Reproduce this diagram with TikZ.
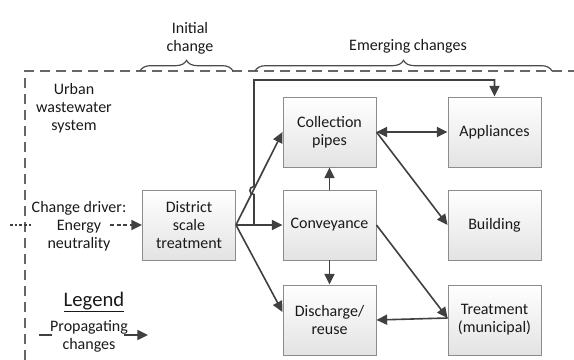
\documentclass[tikz,border=0pt]{standalone}
\usepackage{fontspec}
\setmainfont{Carlito}
\usetikzlibrary{arrows.meta,decorations.pathreplacing,calc}
\begin{document}
\begin{tikzpicture}[x=0.75pt,y=-0.75pt,
  every node/.style={font=\fontsize{12}{13.5}\selectfont, text=black!90},
  box/.style={draw=black!45, line width=0.7pt, top color=white, bottom color=black!11,
    minimum width=69.75pt, minimum height=52.5pt, align=center, inner sep=1pt},
  tip/.style={Triangle[length=8pt,width=7.5pt]},
  conn/.style={draw=black!75, line width=1.2pt, -{Triangle[length=8pt,width=7.5pt]}},
  conn2/.style={draw=black!75, line width=1.2pt, {Triangle[length=8pt,width=7.5pt]}-{Triangle[length=8pt,width=7.5pt]}},
  bound/.style={draw=black!60, line width=1.4pt, dash pattern=on 7.5pt off 4.5pt},
  brc/.style={draw=black!70, line width=0.9pt, decorate, decoration={brace, amplitude=8pt, aspect=0.5}},
  lbl/.style={align=center}]
\useasboundingbox (0,0) rectangle (574,360);
% boundary
\draw[bound] (25,360) -- (25,71) -- (574,71);
% braces
\draw[brc] (140,71) -- (233,71);
\draw[brc] (255,71) -- (552,71);
\node[lbl] (ic) at (190,38) {Initial\\change};
\node[lbl] (ec) at (408,46) {Emerging changes};
\node[lbl] (uws) at (74,108) {Urban\\wastewater\\system};
% boxes
\node[box] (dst) at (189,225) {District\\scale\\treatment};
\node[box] (cp) at (329.5,132) {Collection\\pipes};
\node[box] (app) at (494.5,132) {Appliances};
\node[box] (conv) at (329.5,225) {Conveyance};
\node[box] (bld) at (494.5,225) {Building};
\node[box] (dr) at (329.5,320) {Discharge/\\reuse};
\node[box] (tm) at (494.5,320) {Treatment\\(municipal)};
% change driver
\node[lbl] (cd) at (79,226) {Change driver:\\Energy\\neutrality};
\coordinate (cds) at (10,225);
\coordinate (cde) at (33,225);
\draw[draw=black!75, line width=1pt, dash pattern=on 2pt off 1.5pt] (cds) -- (cde);
\coordinate (dda) at (110,225);
\draw[conn, dash pattern=on 3pt off 2pt] (dda) -- (dst.west);
% connectors
\coordinate (j) at (254,225);
\draw[conn] (dst.east) -- (cp.west);
\draw[conn] (dst.east) -- (conv.west);
\draw[conn] (dst.east) -- ($(dr.west)+(0,-8)$);
\draw[conn] (j) -- (254,194.5) .. controls (248.5,194.5) and (248.5,186.5) .. (254,186.5) -- (254,80) -| (app.north);
\draw[conn2] (cp.east) -- (app.west);
\draw[conn] (cp.east) -- (bld.west);
\draw[conn] (conv.north) -- (cp.south);
\draw[conn] (conv.south) -- (dr.north);
\draw[conn] (conv.east) -- ($(tm.west)+(0,-2)$);
\draw[conn] ($(tm.west)+(0,-2)$) -- (dr.east);
% legend
\node[font=\fontsize{15.5}{17}\selectfont] (lg) at (94,302) {\underline{Legend}};
\node[lbl] (pc) at (89,336) {Propagating\\changes};
\coordinate (l1) at (39,335);
\coordinate (l2) at (52,335);
\draw[draw=black!75, line width=1pt] (l1) -- (l2);
\coordinate (a1) at (124,335);
\coordinate (a2) at (148,335);
\draw[conn] (a1) -- (a2);
\end{tikzpicture}
\end{document}
